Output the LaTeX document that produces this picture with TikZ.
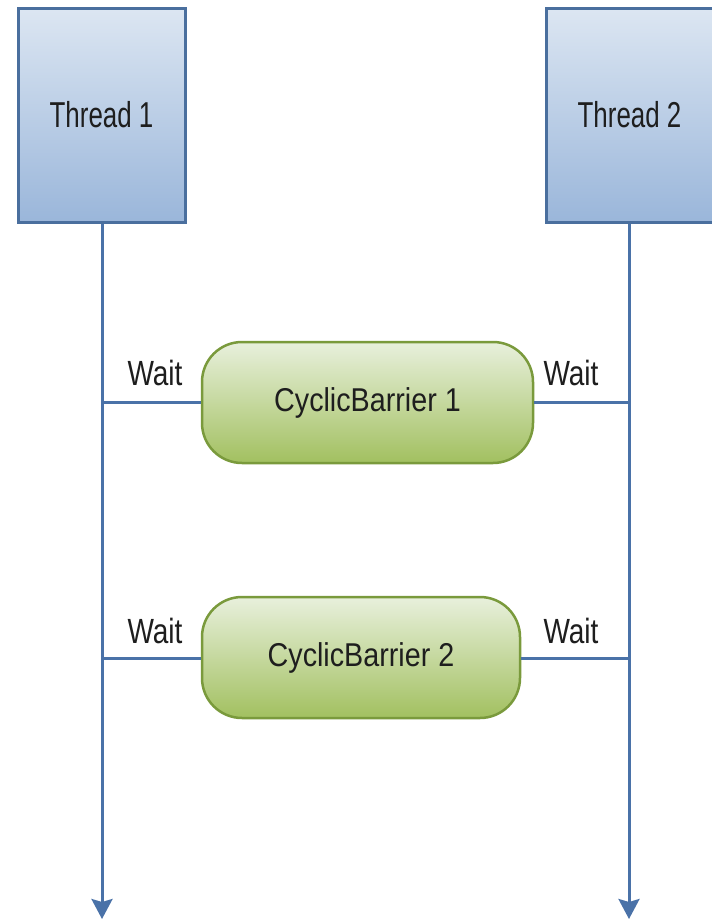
\documentclass[tikz,border=0pt]{standalone}
\usepackage{fontspec}
\usetikzlibrary{arrows.meta}
\newfontfamily\threadfont[FakeStretch=0.72]{Liberation Sans}
\newfontfamily\waitfont[FakeStretch=0.80]{Liberation Sans}
\newfontfamily\barrierfont[FakeStretch=0.87]{Liberation Sans}
\definecolor{threadtop}{HTML}{DCE6F2}
\definecolor{threadbot}{HTML}{9AB6DA}
\definecolor{threadedge}{HTML}{4A6F9E}
\definecolor{barriertop}{HTML}{E8F0DC}
\definecolor{barrierbot}{HTML}{A2C060}
\definecolor{barrieredge}{HTML}{7A9A3C}
\definecolor{wire}{HTML}{4A72A8}
\definecolor{ink}{HTML}{1E1E1E}
\tikzset{
  threadbox/.style={draw=threadedge, line width=3pt, top color=threadtop,
    bottom color=threadbot, minimum width=167pt, minimum height=214pt,
    inner sep=0pt, text=ink, font=\threadfont\fontsize{36}{40}\selectfont},
  barrierbox/.style={draw=barrieredge, line width=2.5pt, top color=barriertop,
    bottom color=barrierbot, rounded corners=40pt, minimum height=121pt,
    inner sep=0pt, text=ink, font=\barrierfont\fontsize{33}{38}\selectfont},
  lifeline/.style={draw=wire, line width=3pt,
    -{Stealth[length=20pt, width=21pt, inset=3pt]}},
  waitline/.style={draw=wire, line width=3pt},
  waitlabel/.style={anchor=base, inner sep=0pt, text=ink,
    font=\waitfont\fontsize{35}{40}\selectfont}
}
\begin{document}
\begin{tikzpicture}[x=1pt, y=1pt]
\useasboundingbox (0,0) rectangle (712,-921);
\begin{scope}
\clip (0,0) rectangle (712,-921);

% thread boxes
\node[threadbox] (th1) at (101.5,-115) {Thread 1};
\node[threadbox] (th2) at (629.5,-115) {Thread 2};

% lifeline ends
\coordinate (end1) at (102,-919);
\coordinate (end2) at (629,-919);
\draw[lifeline] (th1.south -| end1) -- (end1);
\draw[lifeline] (th2.south -| end2) -- (end2);

% barriers
\node[barrierbox, minimum width=331pt] (cb1) at (367.5,-402.5) {CyclicBarrier 1};
\node[barrierbox, minimum width=318pt] (cb2) at (361,-657.5) {CyclicBarrier 2};

% wait points on the lifelines
\coordinate (w1l) at (102,-402);
\coordinate (w1r) at (629,-402);
\coordinate (w2l) at (102,-658);
\coordinate (w2r) at (629,-658);

\draw[waitline] (w1l) -- (cb1.west |- w1l);
\draw[waitline] (cb1.east |- w1r) -- (w1r);
\draw[waitline] (w2l) -- (cb2.west |- w2l);
\draw[waitline] (cb2.east |- w2r) -- (w2r);

% labels
\node[waitlabel] (l1) at (155,-385) {Wait};
\node[waitlabel] (r1) at (571,-385) {Wait};
\node[waitlabel] (l2) at (155,-643) {Wait};
\node[waitlabel] (r2) at (571,-643) {Wait};
\end{scope}
\end{tikzpicture}
\end{document}
